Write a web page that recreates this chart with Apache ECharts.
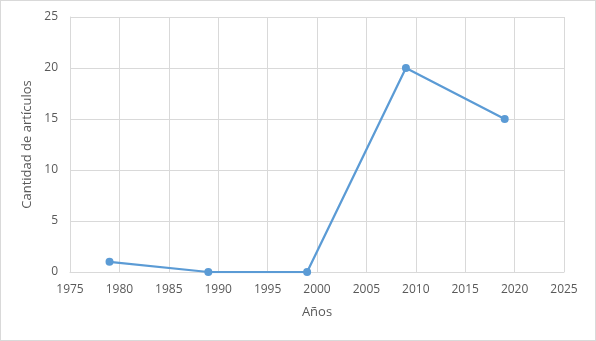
<!DOCTYPE html>
<html><head><meta charset="utf-8">
<script src="https://cdn.jsdelivr.net/npm/echarts@6/dist/echarts.min.js"></script>
<style>html,body{margin:0;padding:0;background:#fff}#c{width:596px;height:341px;box-sizing:border-box;border:1px solid #d9d9d9}</style>
</head><body><div id="c"></div>
<script>
const years = [1979, 1989, 1999, 2009, 2019];
const articles = [1, 0, 0, 20, 15];
const xTitle = 'Años';
const yTitle = 'Cantidad de artículos';
const chart = echarts.init(document.getElementById('c'));
const font = '"Open Sans", "Noto Sans", sans-serif';
chart.setOption({
  animation: false,
  grid: {left: 69, right: 31, top: 16, bottom: 68},
  xAxis: {
    type: 'value', min: 1975, max: 2025, interval: 5,
    name: xTitle, nameLocation: 'middle', nameGap: 34,
    nameTextStyle: {color: '#595959', fontSize: 13, fontFamily: font},
    axisLine: {show: true, lineStyle: {color: '#d9d9d9'}},
    axisTick: {show: false},
    axisLabel: {color: '#595959', fontSize: 12, fontFamily: font, margin: 12, formatter: v => String(v)},
    splitLine: {show: true, lineStyle: {color: '#d9d9d9'}}
  },
  yAxis: {
    type: 'value', min: 0, max: 25, interval: 5,
    name: yTitle, nameLocation: 'middle', nameGap: 26,
    nameTextStyle: {color: '#595959', fontSize: 13, fontFamily: font},
    axisLine: {show: true, lineStyle: {color: '#d9d9d9'}},
    axisTick: {show: false},
    axisLabel: {color: '#595959', fontSize: 12, fontFamily: font, margin: 12},
    splitLine: {show: true, lineStyle: {color: '#d9d9d9'}}
  },
  series: [{
    type: 'line',
    data: years.map((y, i) => [y, articles[i]]),
    symbol: 'circle', symbolSize: 8,
    lineStyle: {color: '#5b9bd5', width: 2.25},
    itemStyle: {color: '#5b9bd5'}
  }]
});
</script></body></html>
